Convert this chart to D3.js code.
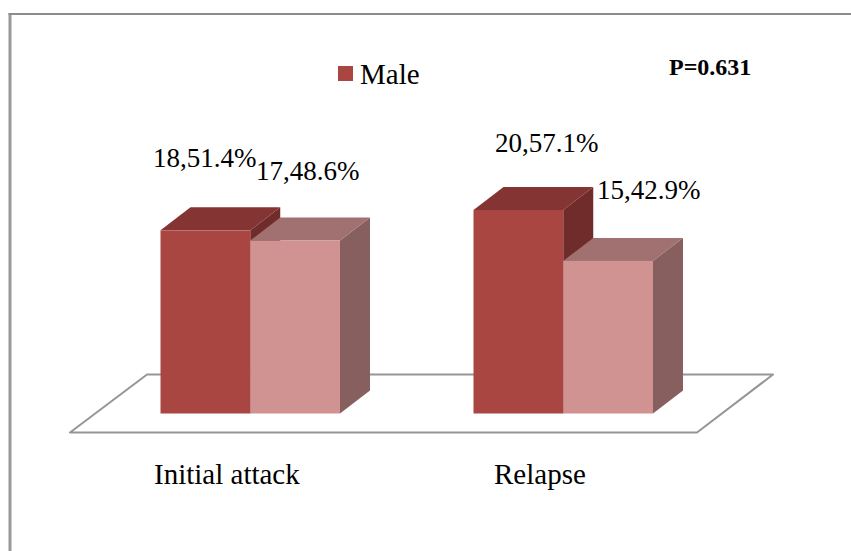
<!DOCTYPE html>
<html><head><meta charset="utf-8">
<script src="https://cdn.jsdelivr.net/npm/d3@7/dist/d3.min.js"></script>
<style>html,body{margin:0;padding:0;background:#fff}svg{display:block}text{font-family:"Liberation Serif",serif;fill:#000}</style>
</head><body><svg id="c" width="851" height="551"></svg>
<script>
const categories = ["Initial attack", "Relapse"];
const seriesNames = ["Male", "Female"];
const maleValues = [18, 20];
const femaleValues = [17, 15];
const malePct = ["51.4%", "57.1%"];
const femalePct = ["48.6%", "42.9%"];
const legendLabel = "Male";
const pLabel = "P=0.631";

const svg = d3.select("#c");
const baseY = 413.5, depthX = 30, depthY = 23;
const x0 = d3.scaleBand().domain(categories).range([160.5, 653]).paddingInner(0.4265).paddingOuter(0);
const x1 = d3.scaleBand().domain(seriesNames).range([0, x0.bandwidth()]);
const y = d3.scaleLinear().domain([0, 20]).range([baseY, 210]);
const palette = {
  Male: {front: "#a94642", top: "#843433", side: "#6f2c2a"},
  Female: {front: "#d19391", top: "#a17070", side: "#875f5e"}
};

// frame
svg.append("line").attr("x1", 10).attr("x2", 10).attr("y1", 13).attr("y2", 551).attr("stroke", "#999").attr("stroke-width", 3);
svg.append("line").attr("x1", 8.5).attr("x2", 851).attr("y1", 14).attr("y2", 14).attr("stroke", "#8c8c8c").attr("stroke-width", 2);

// floor
svg.append("path").attr("d", "M70,432.5H697L773,374.5H147Z").attr("fill", "#fff").attr("stroke", "#969696").attr("stroke-width", 2).attr("stroke-linejoin", "round");

const rows = [];
categories.forEach((c, i) => {
  rows.push({c, s: "Male", v: maleValues[i], p: malePct[i]});
  rows.push({c, s: "Female", v: femaleValues[i], p: femalePct[i]});
});

const bars = svg.append("g").selectAll("g").data(rows).join("g");
bars.each(function(d) {
  const g = d3.select(this);
  const l = x0(d.c) + x1(d.s), r = l + x1.bandwidth(), t = y(d.v), b = y(0);
  const col = palette[d.s];
  g.append("path").attr("fill", col.side).attr("d", `M${r},${t}L${r+depthX},${t-depthY}V${b-depthY}L${r},${b}Z`);
  g.append("path").attr("fill", col.top).attr("d", `M${l},${t}L${l+depthX},${t-depthY}H${r+depthX}L${r},${t}Z`);
  g.append("rect").attr("fill", col.front).attr("x", l).attr("y", t).attr("width", r - l).attr("height", b - t);
});

// data labels
const labelPos = [[153, 167], [256, 180], [495, 152], [597, 199]];
svg.append("g").selectAll("text").data(rows).join("text")
  .attr("x", (d, i) => labelPos[i][0]).attr("y", (d, i) => labelPos[i][1])
  .attr("font-size", 27).text(d => `${d.v},${d.p}`);

// category labels
const catX = [154, 494];
svg.append("g").selectAll("text").data(categories).join("text")
  .attr("x", (d, i) => catX[i]).attr("y", 484).attr("font-size", 29).text(d => d);

// legend
svg.append("rect").attr("x", 338).attr("y", 66).attr("width", 15).attr("height", 15).attr("fill", palette.Male.front);
svg.append("text").attr("x", 360).attr("y", 84).attr("font-size", 29).text(legendLabel);
svg.append("text").attr("x", 669).attr("y", 75).attr("font-size", 24).attr("font-weight", "bold").text(pLabel);
</script></body></html>
